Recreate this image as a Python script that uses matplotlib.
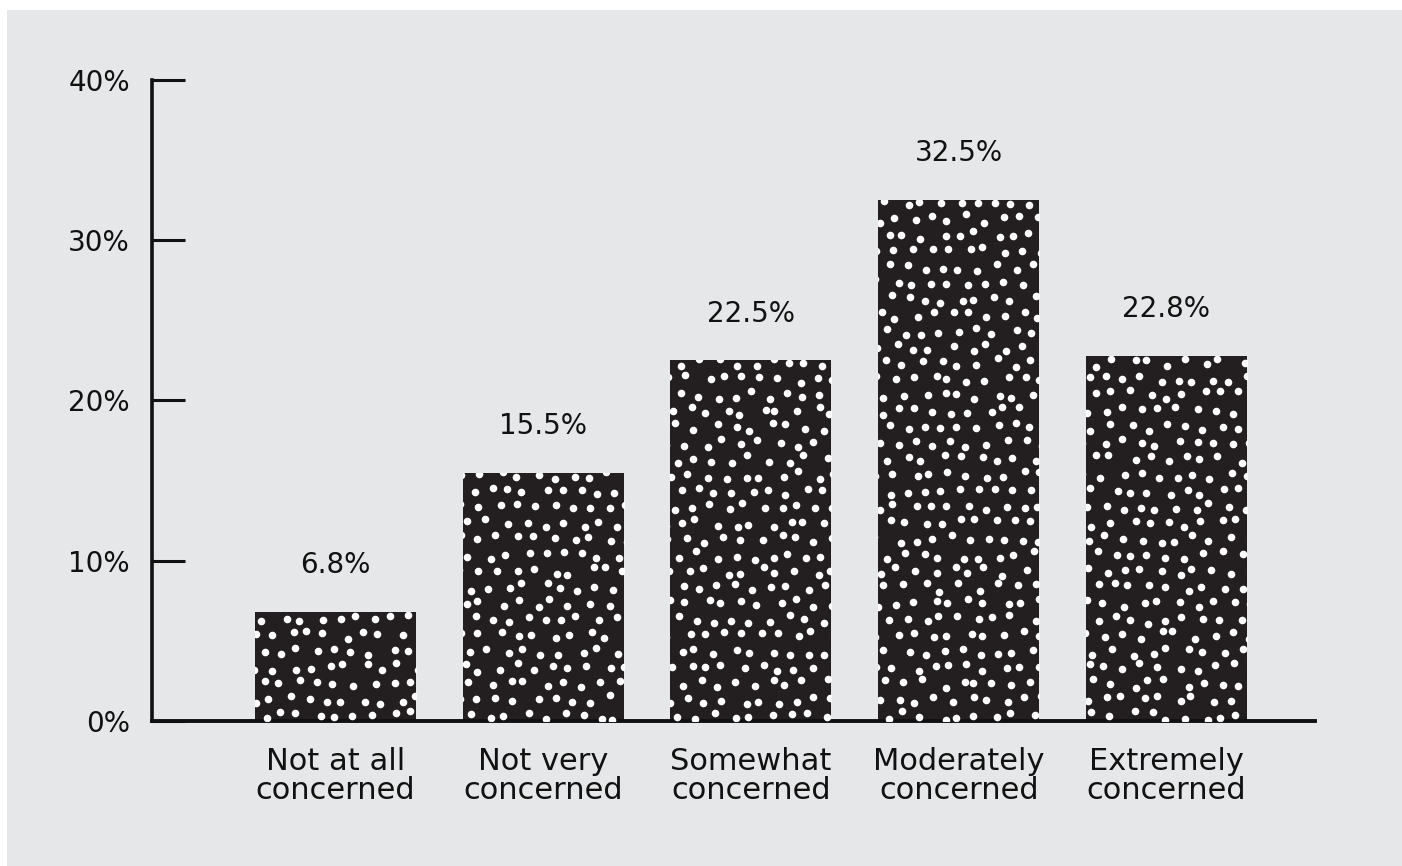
import numpy as np
import matplotlib.pyplot as plt
from matplotlib.patches import Rectangle

# respostas da pesquisa sobre nivel de preocupacao
categorias = ['Not at all\nconcerned', 'Not very\nconcerned', 'Somewhat\nconcerned',
              'Moderately\nconcerned', 'Extremely\nconcerned']
percentuais = [6.8, 15.5, 22.5, 32.5, 22.8]
rotulos = ['6.8%', '15.5%', '22.5%', '32.5%', '22.8%']
ticks_y = [0, 10, 20, 30, 40]

fundo = '#e6e7e8'
preto = '#231f20'

fig = plt.figure(figsize=(14.02, 8.66), dpi=100)
fig.patch.set_facecolor('white')
# painel cinza com margem branca em cima e na esquerda
fig.patches.append(Rectangle((7 / 1402, 0), 1, (866 - 10) / 866, transform=fig.transFigure,
                             facecolor=fundo, edgecolor='none', zorder=-10))

ax = fig.add_axes([152 / 1402, 1 - 721 / 866, (1315 - 152) / 1402, (721 - 80) / 866])
ax.set_facecolor('none')

x = np.arange(len(categorias))
barras = ax.bar(x, percentuais, width=0.775, color=preto, zorder=2)

ax.set_xlim(-0.883, 4.715)
ax.set_ylim(0, 40)

# textura de pontos brancos dentro de cada barra (grade com deslocamento)
rng = np.random.default_rng(7)
dx = 0.087
dy = 1.0
for barra in barras:
    x0 = barra.get_x()
    w = barra.get_width()
    h = barra.get_height()
    pts_x, pts_y = [], []
    linha = 0
    yy = dy * 0.35
    while yy < h + dy:
        desloc = (linha % 2) * dx / 2
        xx = x0 + desloc - dx / 2
        while xx < x0 + w + dx:
            pts_x.append(xx + rng.uniform(-0.28, 0.28) * dx)
            pts_y.append(yy + rng.uniform(-0.28, 0.28) * dy)
            xx += dx
        yy += dy
        linha += 1
    sc = ax.scatter(pts_x, pts_y, s=30, color='white', linewidths=0, zorder=3)
    sc.set_clip_path(barra)

for xi, v, r in zip(x, percentuais, rotulos):
    ax.annotate(r, (xi, v), xytext=(0, 28), textcoords='offset points',
                ha='center', va='baseline', fontsize=20, color='#111111')

for lado in ['top', 'right']:
    ax.spines[lado].set_visible(False)
ax.spines['left'].set_linewidth(2.6)
ax.spines['bottom'].set_linewidth(2.8)
ax.spines['left'].set_color('#111111')
ax.spines['bottom'].set_color('#111111')

ax.set_yticks(ticks_y)
ax.set_yticklabels([f'{t}%' for t in ticks_y])
ax.tick_params(axis='y', direction='in', length=24, width=2.2, pad=16,
               labelsize=20, colors='#111111')
ax.set_xticks(x)
ax.set_xticklabels(categorias, linespacing=1.0)
ax.tick_params(axis='x', length=0, pad=19, labelsize=22, colors='#111111')

fig.savefig('out.png', dpi=100, facecolor=fig.get_facecolor())
